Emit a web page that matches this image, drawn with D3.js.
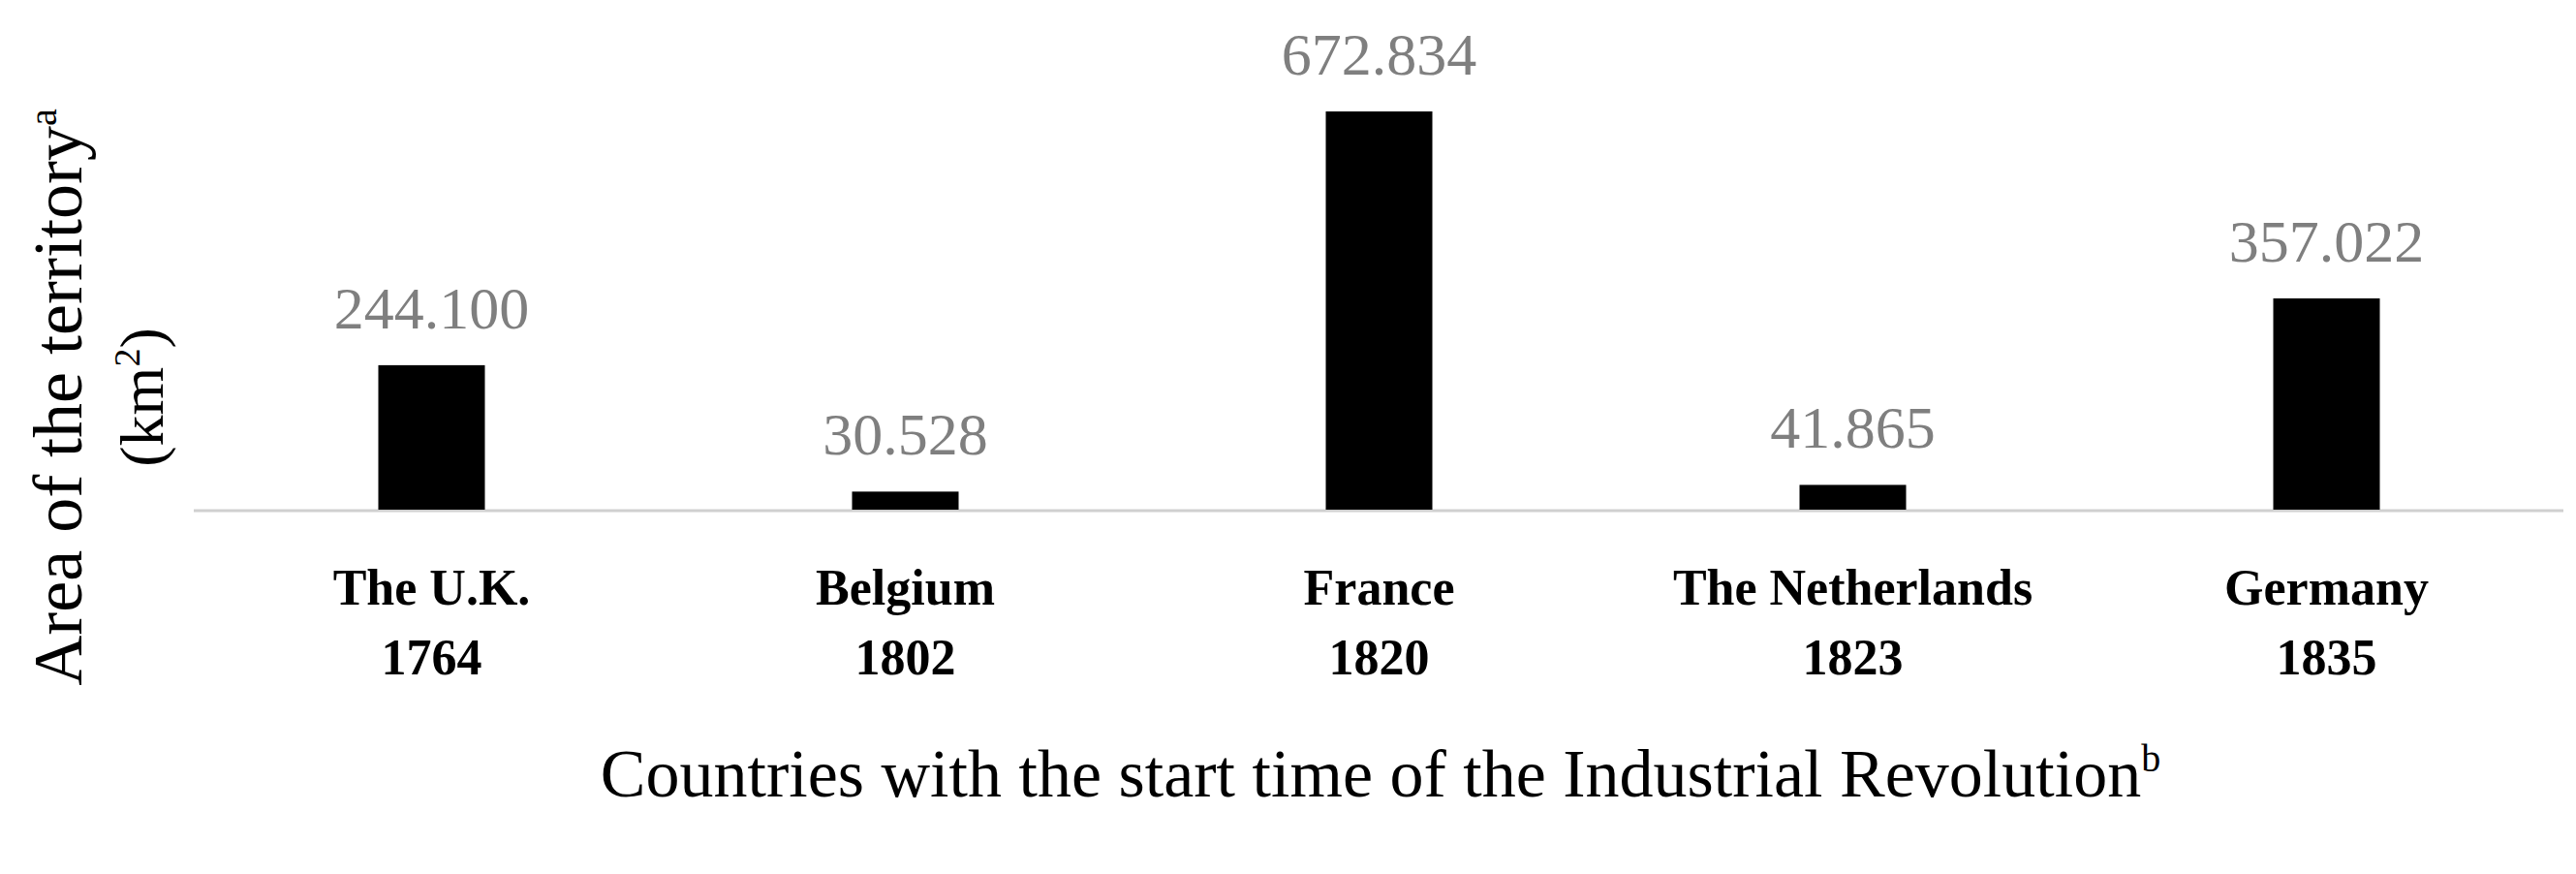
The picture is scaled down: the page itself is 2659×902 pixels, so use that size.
<!DOCTYPE html>
<html lang="en">
  <head>
    <meta charset="UTF-8" />
    <title>Area of the territory</title>
    <script src="https://d3js.org/d3.v7.min.js"></script>
    <style>
      body { margin: 0; background: #fff; }
      text { font-family: "Liberation Serif", "DejaVu Serif", serif; }
    </style>
  </head>
  <body>
    <svg id="chart" width="2659" height="902"></svg>
  </body>
  <script>
    var countries = ["The U.K.", "Belgium", "France", "The Netherlands", "Germany"];
    var years = ["1764", "1802", "1820", "1823", "1835"];
    var areas = [244.1, 30.528, 672.834, 41.865, 357.022];
    var areaLabels = ["244.100", "30.528", "672.834", "41.865", "357.022"];

    var svg = d3.select("#chart");
    var baseY = 526;

    var x = d3.scaleBand().domain(countries).range([201, 2646]);
    var y = d3.scaleLinear().domain([0, 672.834]).range([baseY, 115]);
    var barW = 110;

    // axis line
    svg.append("line")
      .attr("x1", 200).attr("x2", 2646)
      .attr("y1", baseY + 1).attr("y2", baseY + 1)
      .attr("stroke", "#d0d0d0").attr("stroke-width", 3);

    countries.forEach(function (c, i) {
      var cx = x(c) + x.bandwidth() / 2;
      svg.append("rect")
        .attr("x", cx - barW / 2)
        .attr("y", y(areas[i]))
        .attr("width", barW)
        .attr("height", baseY - y(areas[i]))
        .attr("fill", "#000");
      svg.append("text")
        .attr("x", cx).attr("y", y(areas[i]) - 38)
        .attr("text-anchor", "middle")
        .attr("font-size", 62).attr("fill", "#7f7f7f")
        .text(areaLabels[i]);
      svg.append("text")
        .attr("x", cx).attr("y", 624)
        .attr("text-anchor", "middle")
        .attr("font-size", 52).attr("font-weight", "bold")
        .text(c);
      svg.append("text")
        .attr("x", cx).attr("y", 696)
        .attr("text-anchor", "middle")
        .attr("font-size", 52).attr("font-weight", "bold")
        .text(years[i]);
    });

    // x title
    var xt = svg.append("text")
      .attr("x", 1425).attr("y", 822)
      .attr("text-anchor", "middle")
      .attr("font-size", 70)
      .text("Countries with the start time of the Industrial Revolution");
    xt.append("tspan").attr("font-size", 40).attr("dy", -26).text("b");

    // y title
    var yt = svg.append("text")
      .attr("transform", "translate(84,410) rotate(-90)")
      .attr("text-anchor", "middle")
      .attr("font-size", 72);
    yt.append("tspan").text("Area of the territory");
    yt.append("tspan").attr("font-size", 40).attr("dy", -26).text("a");
    var yt2 = svg.append("text")
      .attr("transform", "translate(168,410) rotate(-90)")
      .attr("text-anchor", "middle")
      .attr("font-size", 64);
    yt2.append("tspan").text("(km");
    yt2.append("tspan").attr("font-size", 38).attr("dy", -24).text("2");
    yt2.append("tspan").attr("dy", 24).text(")");
  </script>
</html>
